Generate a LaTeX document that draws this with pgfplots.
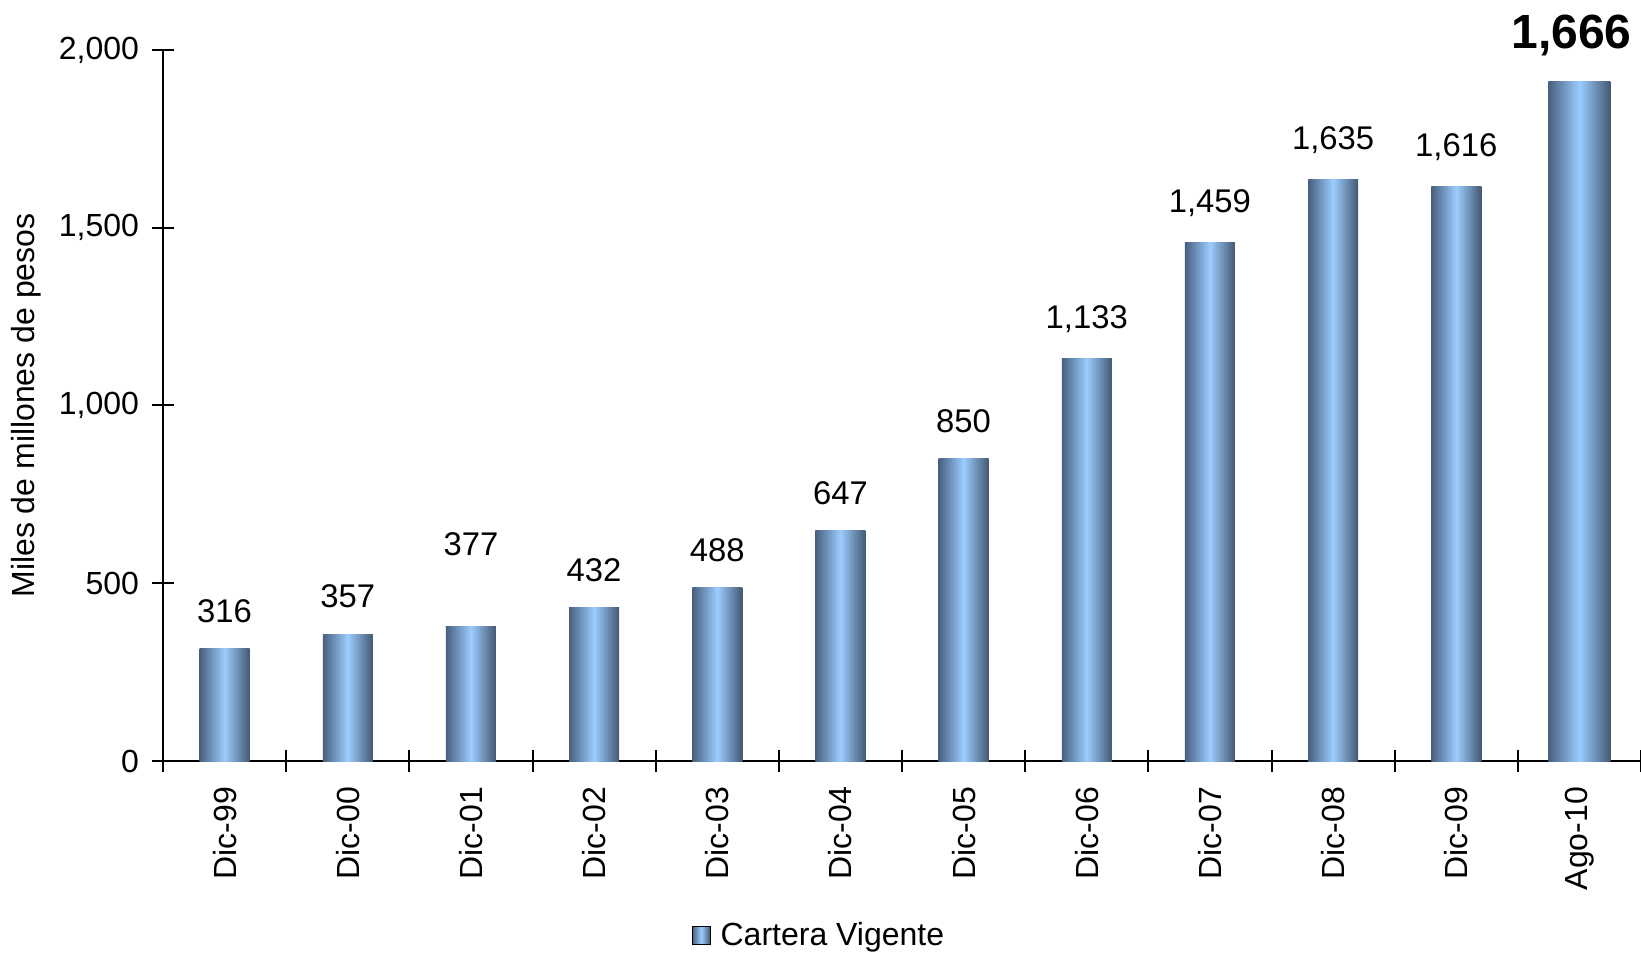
\documentclass[border=0pt]{standalone}
\usepackage{pgfplots}
\pgfplotsset{compat=1.18}
\usepackage{pgfplotstable}
\usepackage{fontspec}
\setmainfont{Liberation Sans}

\definecolor{barleft}{RGB}{72,96,128}
\definecolor{barright}{RGB}{68,88,114}
\definecolor{barlight}{RGB}{155,205,255}

% x, bar height, label, extra label shift (pt)
\pgfplotstableread{
x y lab off
0 316 316 0
1 357 357 0
2 377 377 22.5
3 432 432 0
4 488 488 0
5 647 647 0
6 850 850 0
7 1133 1133 0
8 1459 1459 0
9 1635 1635 0
10 1616 1616 0
}\cartera

\pgfplotstableread{
x y lab off
11 1912 1666 0
}\ultimo

\pgfplotsset{barra/.style={draw=none, left color=barleft, right color=barright, middle color=barlight}}

\begin{document}
\begin{tikzpicture}
\begin{axis}[
    name=ax,
    scale only axis,
    width=739pt, height=355.5pt,
    xmin=-0.5, xmax=11.5,
    ymin=0, ymax=2000,
    axis x line=bottom, axis y line=left,
    axis line style={-, line width=1pt, black},
    clip=false,
    ybar, bar shift=0pt,
    xtick={0,...,11},
    xticklabels={Dic-99,Dic-00,Dic-01,Dic-02,Dic-03,Dic-04,Dic-05,Dic-06,Dic-07,Dic-08,Dic-09,Ago-10},
    minor xtick={-0.5,0.5,...,11.5},
    major x tick style={draw=none},
    ytick={0,500,...,2000},
    tick align=center,
    major tick length=11pt, minor tick length=11pt,
    tick style={line width=1pt, black},
    /pgf/number format/1000 sep={,},
    /pgf/number format/assume math mode=true,
    ticklabel style={font=\fontsize{16}{19}\selectfont},
    xticklabel style={rotate=90, anchor=east},
    xticklabel shift=4pt,
    yticklabel shift=3pt,
    ylabel={Miles de millones de pesos},
    every axis y label/.style={at={(axis description cs:-0.0925,0.5)}, rotate=90, anchor=center, font=\fontsize{16}{19}\selectfont},
    nodes near coords={\pgfmathprintnumber{\pgfplotspointmeta}},
    point meta=explicit,
    visualization depends on={\thisrow{off} \as \laboff},
    unbounded coords=discard,
    legend style={at={(0.4445,-0.245)}, anchor=center, draw=none, fill=none,
        font=\fontsize{16}{19}\selectfont},
    legend image code/.code={\path[left color=barleft, right color=barright, middle color=barlight] (0pt,-4.5pt) rectangle (9pt,4.5pt); \path (12pt,0pt);},
]
\addlegendimage{}
\addlegendentry{Cartera Vigente}
% one plot per bar so that each bar gets its own shading
\pgfplotsinvokeforeach{0,...,10}{
\addplot[barra, bar width=25pt, x filter/.expression={x==#1 ? x : nan},
    every node near coord/.append style={font=\fontsize{16.4}{19}\selectfont, yshift={9.4pt+\laboff*1pt}}]
    table[x=x, y=y, meta=lab] {\cartera};
}
\addplot[barra, bar width=31pt,
    every node near coord/.append style={font=\bfseries\fontsize{24}{28}\selectfont, yshift={9pt+\laboff*1pt}, xshift=-4pt}]
    table[x=x, y=y, meta=lab] {\ultimo};
\end{axis}
\pgfresetboundingbox
\path ([shift={(-81.5pt,-95.5pt)}]ax.south west) rectangle ([shift={(0pt,25pt)}]ax.north east);
\end{tikzpicture}
\end{document}
